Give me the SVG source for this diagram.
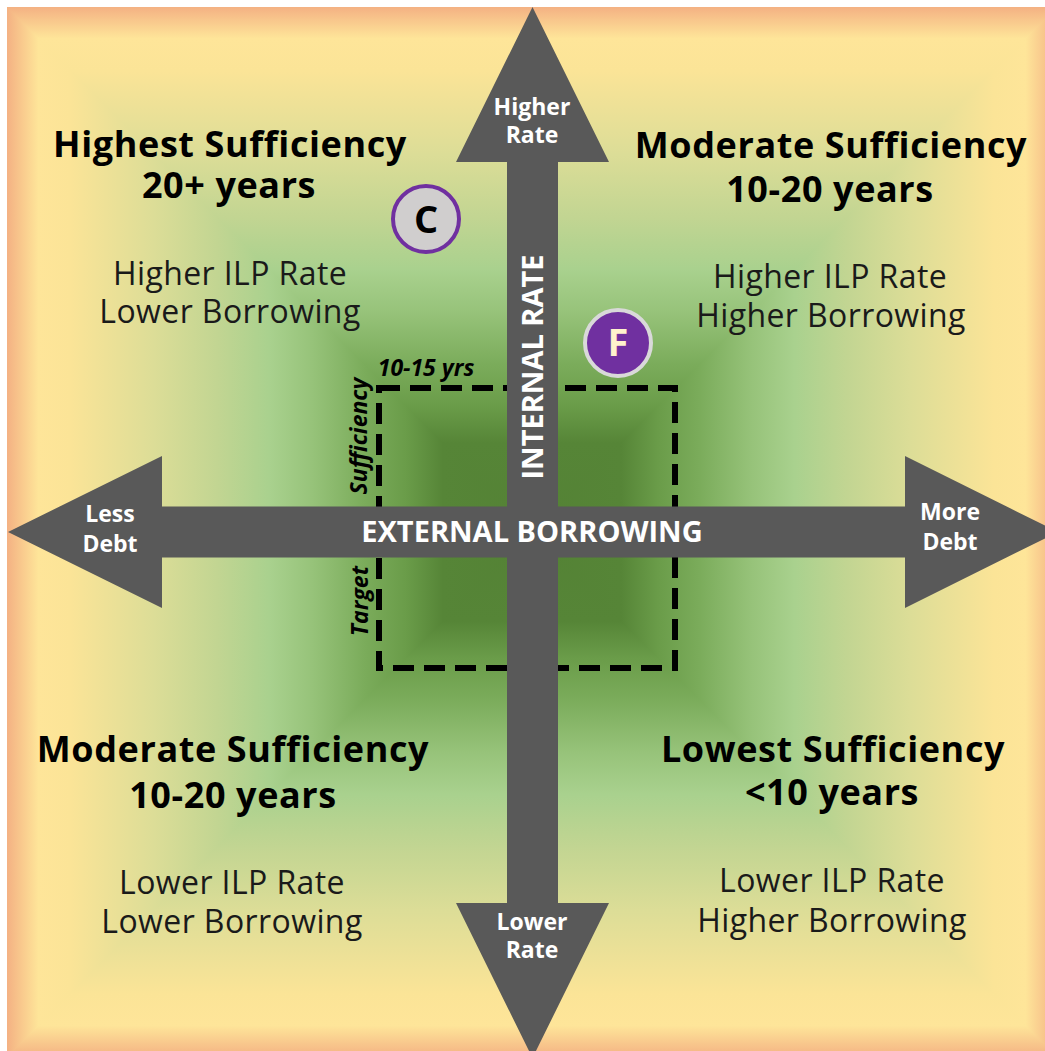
<svg xmlns="http://www.w3.org/2000/svg" width="1045" height="1051" viewBox="0 0 1045 1051">
<defs>
<linearGradient id="gx" gradientUnits="userSpaceOnUse" x1="7" y1="0" x2="532" y2="0" spreadMethod="reflect">
<stop offset="0" stop-color="#F4B183"/>
<stop offset="0.03" stop-color="#F9CB8E"/>
<stop offset="0.06" stop-color="#FEE599"/>
<stop offset="0.12" stop-color="#FBE497"/>
<stop offset="0.28" stop-color="#DCDD97"/>
<stop offset="0.40" stop-color="#C2D592"/>
<stop offset="0.50" stop-color="#A9D18E"/>
<stop offset="0.58" stop-color="#97C37A"/>
<stop offset="0.68" stop-color="#7BAC5B"/>
<stop offset="0.76" stop-color="#6A9C49"/>
<stop offset="0.83" stop-color="#568537"/>
<stop offset="1" stop-color="#548235"/>
</linearGradient>
<linearGradient id="gy" gradientUnits="userSpaceOnUse" x1="0" y1="7" x2="0" y2="532" spreadMethod="reflect">
<stop offset="0" stop-color="#F4B183"/>
<stop offset="0.03" stop-color="#F9CB8E"/>
<stop offset="0.06" stop-color="#FEE599"/>
<stop offset="0.12" stop-color="#FBE497"/>
<stop offset="0.28" stop-color="#DCDD97"/>
<stop offset="0.40" stop-color="#C2D592"/>
<stop offset="0.50" stop-color="#A9D18E"/>
<stop offset="0.58" stop-color="#97C37A"/>
<stop offset="0.68" stop-color="#7BAC5B"/>
<stop offset="0.76" stop-color="#6A9C49"/>
<stop offset="0.83" stop-color="#568537"/>
<stop offset="1" stop-color="#548235"/>
</linearGradient>
<style>
text{font-family:"Open Sans","Liberation Sans",sans-serif;text-anchor:middle}
.title{font-size:36px;font-weight:700;fill:#000;letter-spacing:0.6px}
.body{font-size:32px;font-weight:400;fill:#1a1a1a;letter-spacing:0.4px}
.axlbl{font-size:23px;font-weight:700;fill:#fff}
.axis{font-size:29px;font-weight:700;fill:#fff}
.tgt{font-size:23px;font-weight:700;font-style:italic;fill:#000}
.arrow{fill:#595959}
</style>
</defs>
<rect width="1045" height="1051" fill="#fff"/>
<g id="background">
<rect x="7" y="7" width="1050" height="1050" fill="url(#gx)"/>
<path d="M7 7 L1057 7 L532 532 Z M7 1057 L1057 1057 L532 532 Z" fill="url(#gy)"/>
</g>
<g id="target-box">
<rect x="379" y="388" width="296" height="280" fill="none" stroke="#000" stroke-width="6" stroke-dasharray="21 10"/>
<text class="tgt" x="426" y="376">10-15 yrs</text>
<text class="tgt" transform="translate(367,436) rotate(-90)">Sufficiency</text>
<text class="tgt" transform="translate(368,601) rotate(-90)">Target</text>
</g>
<g id="connectors">
<polygon class="arrow" points="8,532 162,456 162,506.5 905,506.5 905,456 1058,532 905,608 905,557.5 162,557.5 162,608"/>
<polygon class="arrow" points="532.5,7 609,162 558,162 558,903 609,903 532.5,1058 456,903 507,903 507,162 456,162"/>
</g>
<g id="axis-labels">
<text class="axis" x="532" y="542">EXTERNAL BORROWING</text>
<text class="axis" transform="translate(543,367) rotate(-90)">INTERNAL RATE</text>
<text class="axlbl" x="532" y="115">Higher</text>
<text class="axlbl" x="532" y="143">Rate</text>
<text class="axlbl" x="532" y="930">Lower</text>
<text class="axlbl" x="532" y="958">Rate</text>
<text class="axlbl" x="110" y="522">Less</text>
<text class="axlbl" x="110" y="552">Debt</text>
<text class="axlbl" x="950" y="520">More</text>
<text class="axlbl" x="950" y="550">Debt</text>
</g>
<g id="q-top-left">
<text class="title" x="230" y="157">Highest Sufficiency</text>
<text class="title" x="229" y="198">20+ years</text>
<text class="body" x="230" y="285">Higher ILP Rate</text>
<text class="body" x="230" y="323">Lower Borrowing</text>
</g>
<g id="q-top-right">
<text class="title" x="831" y="158">Moderate Sufficiency</text>
<text class="title" x="830" y="202">10-20 years</text>
<text class="body" x="830" y="288">Higher ILP Rate</text>
<text class="body" x="831" y="327">Higher Borrowing</text>
</g>
<g id="q-bottom-left">
<text class="title" x="233" y="762">Moderate Sufficiency</text>
<text class="title" x="233" y="808">10-20 years</text>
<text class="body" x="232" y="894">Lower ILP Rate</text>
<text class="body" x="232" y="933">Lower Borrowing</text>
</g>
<g id="q-bottom-right">
<text class="title" x="833" y="762">Lowest Sufficiency</text>
<text class="title" x="832" y="805">&lt;10 years</text>
<text class="body" x="832" y="892">Lower ILP Rate</text>
<text class="body" x="832" y="932">Higher Borrowing</text>
</g>
<g id="node-c">
<circle cx="426" cy="219" r="33" fill="#D0CECE" stroke="#7030A0" stroke-width="4"/>
<text x="426" y="233" style="font-size:38px;font-weight:700;fill:#000">C</text>
</g>
<g id="node-f">
<circle cx="618" cy="343" r="33" fill="#7030A0" stroke="#D9D9D9" stroke-width="4"/>
<text x="618" y="356" style="font-size:38px;font-weight:700;fill:#FFF2CC">F</text>
</g>
</svg>
